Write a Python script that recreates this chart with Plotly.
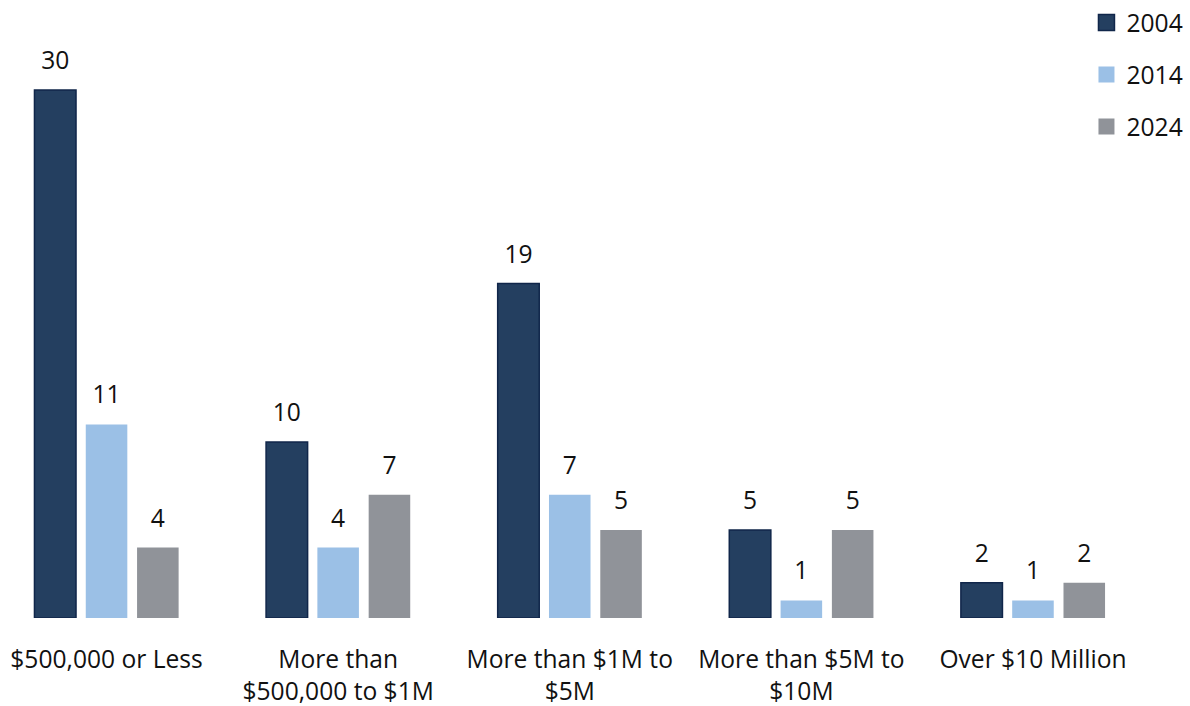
import plotly.graph_objects as go

categories = ["$500,000 or Less", "More than<br>$500,000 to $1M", "More than $1M to<br>$5M",
              "More than $5M to<br>$10M", "Over $10 Million"]
years = ["2004", "2014", "2024"]
values_2004 = [30, 10, 19, 5, 2]
values_2014 = [11, 4, 7, 1, 1]
values_2024 = [4, 7, 5, 5, 2]
series = [values_2004, values_2014, values_2024]
colors = ["#243F60", "#9BC0E6", "#909399"]
line_colors = ["#10264A", "#9BC0E6", "#909399"]

FONT = "Open Sans"
FS = 24.6
fig = go.Figure()
for i, (yr, vals) in enumerate(zip(years, series)):
    fig.add_trace(go.Bar(
        x=categories, y=vals, name=yr, offsetgroup=yr,
        marker=dict(color=colors[i], line=dict(color=line_colors[i], width=1.5 if i == 0 else 0)),
        showlegend=False, hoverinfo="skip",
    ))
for i, (yr, vals) in enumerate(zip(years, series)):
    fig.add_trace(go.Scatter(
        x=categories, y=vals, mode="markers+text", offsetgroup=yr,
        text=[str(v) for v in vals], textposition="top center",
        textfont=dict(family=FONT, size=FS, color="#111111"),
        marker=dict(size=22, opacity=0), showlegend=False, cliponaxis=False, hoverinfo="skip",
    ))
for i, yr in enumerate(years):
    fig.add_trace(go.Scatter(
        x=[None], y=[None], mode="markers", name=yr, legendgroup=yr,
        marker=dict(symbol="square", size=16, color=colors[i],
                    line=dict(color=line_colors[i], width=1.5 if i == 0 else 0)),
    ))

fig.update_layout(
    width=1190, height=706,
    margin=dict(l=0, r=0, t=0, b=88),
    paper_bgcolor="white", plot_bgcolor="white",
    barmode="group", bargap=0.3355, bargroupgap=0.19,
    scattermode="group", scattergap=0.3355,
    font=dict(family=FONT, size=FS, color="#111111"),
    showlegend=True,
    legend=dict(x=0.913, y=1.0, xanchor="left", yanchor="top", traceorder="grouped",
                tracegroupgap=17, font=dict(family=FONT, size=FS, color="#111111"),
                bgcolor="rgba(0,0,0,0)", itemsizing="trace"),
    xaxis=dict(range=[-0.46, 4.678], showgrid=False, showline=False, zeroline=False,
               ticks="", ticklabelstandoff=24, automargin=False,
               tickfont=dict(family=FONT, size=FS, color="#111111")),
    yaxis=dict(range=[0, 35.11], visible=False),
)
fig.write_html("out.html", config={"displayModeBar": False},
               post_script="document.body.style.margin='0';")
